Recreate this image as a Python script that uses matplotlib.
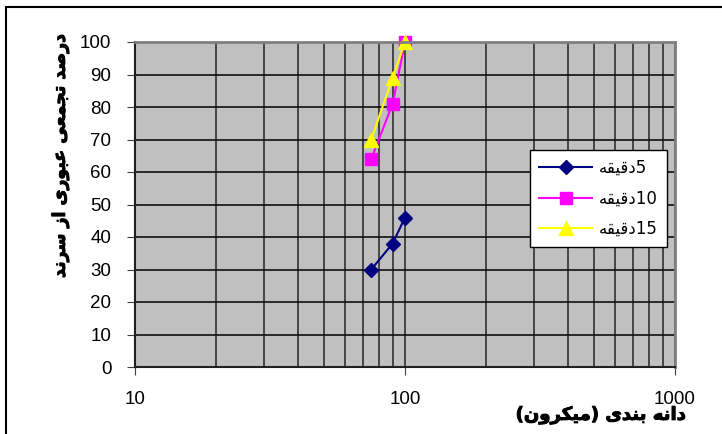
import matplotlib
matplotlib.use("Agg")
import matplotlib.pyplot as plt
import matplotlib.patheffects as pe
from matplotlib.ticker import LogLocator, FixedLocator, NullFormatter, FixedFormatter
from matplotlib.patches import Rectangle

# sieve sizes (micron) and cumulative passing percent per grinding time
sizes = [75, 90, 100]
pass_5min = [30, 38, 46]
pass_10min = [64, 81, 100]
pass_15min = [70, 89, 100]

y_ticks = list(range(0, 101, 10))
x_ticks = [10, 100, 1000]


def vis(*codes):
    # Persian text written as presentation forms, already in visual order
    return "".join(chr(c) for c in codes)


daqiqe = vis(0xFEEA, 0xFED8, 0xFEF4, 0xFED7, 0xFEA9)
series_labels = [daqiqe + "5", daqiqe + "10", daqiqe + "15"]

# "درصد تجمعی عبوری از سرند"
ylabel = " ".join([
    vis(0xFEAA, 0xFEE7, 0xFEAE, 0xFEB3),
    vis(0xFEAF, 0xFE8D),
    vis(0xFEEF, 0xFEAD, 0xFEEE, 0xFE92, 0xFECB),
    vis(0xFEF0, 0xFECC, 0xFEE4, 0xFEA0, 0xFE97),
    vis(0xFEAA, 0xFEBB, 0xFEAD, 0xFEA9),
])
# "دانه بندی (میکرون)"
xlabel = " ".join([
    "(" + vis(0xFEE5, 0xFEED, 0xFEAE, 0xFEDC, 0xFEF4, 0xFEE3) + ")",
    vis(0xFEEF, 0xFEAA, 0xFEE8, 0xFE91),
    vis(0xFEEA, 0xFEE7, 0xFE8D, 0xFEA9),
])

plt.rcParams['font.family'] = ['Liberation Sans', 'DejaVu Sans']

fig = plt.figure(figsize=(7.22, 4.34), dpi=100)
fig.patch.set_facecolor("white")
# outer chart border
fig.patches.append(Rectangle((6 / 722, -0.05), 1.1, 1 - 7 / 434 + 0.05,
                             transform=fig.transFigure, fill=False,
                             edgecolor="black", linewidth=1.5))

ax = fig.add_axes([135 / 722, 1 - 367 / 434, 540 / 722, 325 / 434])
ax.set_facecolor("#C0C0C0")
ax.set_xscale("log")
ax.set_xlim(10, 1000)
ax.set_ylim(0, 100)

ax.xaxis.set_major_locator(FixedLocator(x_ticks))
ax.xaxis.set_major_formatter(FixedFormatter([str(t) for t in x_ticks]))
ax.xaxis.set_minor_locator(LogLocator(base=10, subs=range(2, 10)))
ax.xaxis.set_minor_formatter(NullFormatter())
ax.set_yticks(y_ticks)

ax.grid(True, which="both", axis="x", color="#303030", linewidth=1.2)
ax.grid(True, which="major", axis="y", color="#101010", linewidth=1.2)
ax.set_axisbelow(True)

ax.tick_params(axis="x", which="minor", length=0)
ax.tick_params(axis="x", which="major", length=6, color="#404040",
               pad=11, labelsize=13.5)
ax.tick_params(axis="y", length=6, color="#404040", pad=11, labelsize=13.5)

for side in ["top", "right"]:
    ax.spines[side].set_color("#808080")
    ax.spines[side].set_linewidth(2)
ax.spines["left"].set_color("#202020")
ax.spines["bottom"].set_color("#202020")
ax.spines["left"].set_linewidth(1.5)
ax.spines["bottom"].set_linewidth(1.5)

ax.plot(sizes, pass_5min, color="#000080", marker="D", markersize=7,
        linewidth=1.5, label=series_labels[0], clip_on=False)
ax.plot(sizes, pass_10min, color="#FF00FF", marker="s", markersize=8,
        linewidth=1.5, label=series_labels[1], clip_on=False)
ax.plot(sizes, pass_15min, color="#FFFF00", marker="^", markersize=10,
        linewidth=1.5, label=series_labels[2], clip_on=False)

leg = ax.legend(loc="upper left", bbox_to_anchor=(0.731, 0.668),
                borderaxespad=0, fontsize=12, frameon=True, fancybox=False,
                framealpha=1, edgecolor="black", handlelength=3.2,
                borderpad=0.55, labelspacing=0.75, handletextpad=0.4)
leg.get_frame().set_linewidth(1.0)
for t in leg.get_texts():
    t.set_family(['DejaVu Sans'])

bold = [pe.withStroke(linewidth=0.7, foreground="black")]
fig.text(60 / 722, 1 - 156 / 434, ylabel, rotation=90, ha="center",
         va="center", fontsize=12.5, fontweight="bold",
         family=['DejaVu Sans'], path_effects=bold)
fig.text(686 / 722, 1 - 415 / 434, xlabel, ha="right", va="center",
         fontsize=13, fontweight="bold", family=['DejaVu Sans'],
         path_effects=bold)

fig.savefig("out.png", dpi=100)
